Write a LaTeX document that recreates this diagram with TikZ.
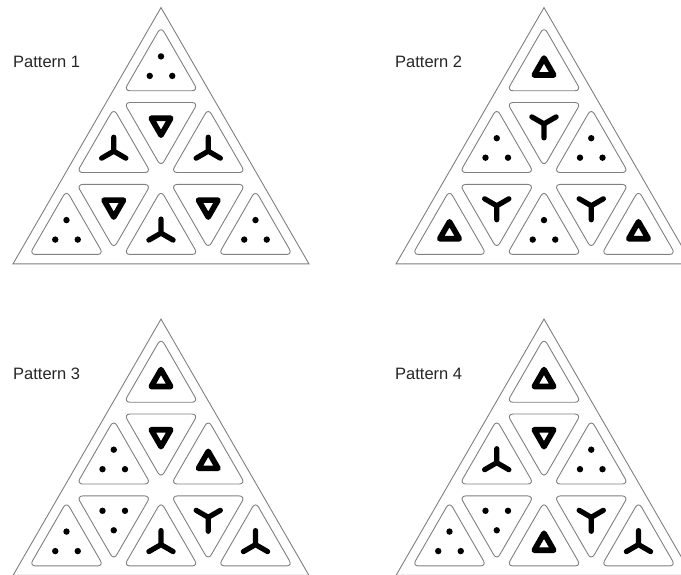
\documentclass[tikz,border=0pt]{standalone}
\usepackage{fontspec}
\setmainfont{Liberation Sans}
\tikzset{
  cellline/.style={draw=black!50, line width=0.9pt, rounded corners=6pt},
  outerline/.style={draw=black!50, line width=0.9pt},
  lbl/.style={anchor=base west, inner sep=0pt, font=\fontsize{16.5}{20}\selectfont, text=black!85},
  pics/cell/.style={code={\draw[cellline] (90:42.7) -- (210:42.7) -- (330:42.7) -- cycle;}},
  pics/dots/.style={code={\fill[black] (90:13) circle[radius=3.2] (210:13) circle[radius=3.2] (330:13) circle[radius=3.2];}},
  pics/tri/.style={code={\draw[black, line width=5.6pt, line join=round] (90:11.3) -- (210:11.3) -- (330:11.3) -- cycle;}},
  pics/star/.style={code={\draw[black, line width=5.2pt, line cap=round] (0,0) -- (90:14) (0,0) -- (210:14) (0,0) -- (330:14);}},
}
\newcommand\mycells[9]{%
  \draw[outerline] (90:170.9) -- (210:170.9) -- (330:170.9) -- cycle;
  \pic at (0,109.1) {cell}; \pic at (0,109.1) {#1};
  \pic at (-47.25,27.3) {cell}; \pic at (-47.25,27.3) {#2};
  \pic[rotate=180] at (0,54.6) {cell}; \pic[rotate=180] at (0,54.6) {#3};
  \pic at (47.25,27.3) {cell}; \pic at (47.25,27.3) {#4};
  \pic at (-94.5,-54.6) {cell}; \pic at (-94.5,-54.6) {#5};
  \pic[rotate=180] at (-47.25,-27.3) {cell}; \pic[rotate=180] at (-47.25,-27.3) {#6};
  \pic at (0,-54.6) {cell}; \pic at (0,-54.6) {#7};
  \pic[rotate=180] at (47.25,-27.3) {cell}; \pic[rotate=180] at (47.25,-27.3) {#8};
  \pic at (94.5,-54.6) {cell}; \pic at (94.5,-54.6) {#9};
}
\begin{document}
\begin{tikzpicture}[x=1pt,y=1pt]
\useasboundingbox (0,0) rectangle (681,575);
\clip (0,0) rectangle (681,575);
\fill[white] (0,0) rectangle (681,575);
\node[lbl] (l1) at (13,507) {Pattern 1};
\node[lbl] (l2) at (395,507) {Pattern 2};
\node[lbl] (l3) at (13,195) {Pattern 3};
\node[lbl] (l4) at (395,195) {Pattern 4};
\begin{scope}[shift={(161,396.5)}]
  \mycells{dots}{star}{tri}{star}{dots}{tri}{star}{tri}{dots}
\end{scope}
\begin{scope}[shift={(544,396.5)}]
  \mycells{tri}{dots}{star}{dots}{tri}{star}{dots}{star}{tri}
\end{scope}
\begin{scope}[shift={(161,85)}]
  \mycells{tri}{dots}{tri}{tri}{dots}{dots}{star}{star}{star}
\end{scope}
\begin{scope}[shift={(544,85)}]
  \mycells{tri}{star}{tri}{dots}{dots}{dots}{tri}{star}{star}
\end{scope}
\end{tikzpicture}
\end{document}
